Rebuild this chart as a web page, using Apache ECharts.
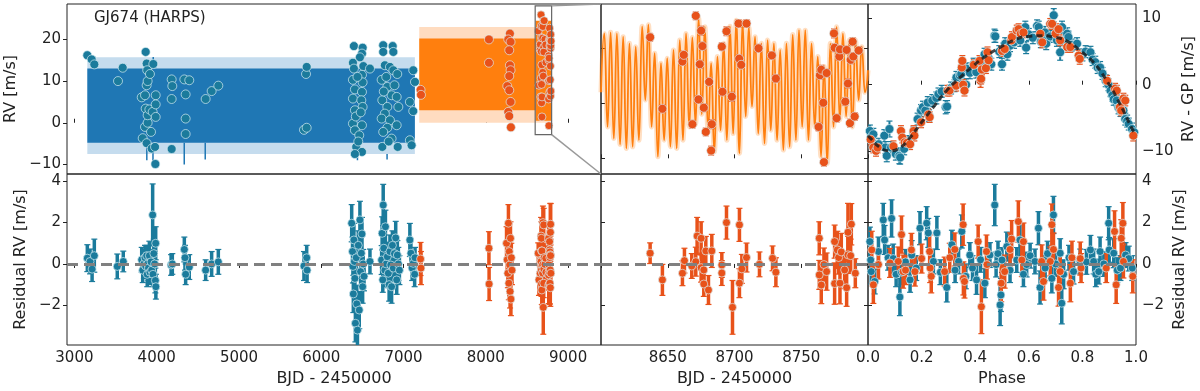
<!DOCTYPE html>
<html>
<head>
<meta charset="utf-8">
<script src="https://cdn.jsdelivr.net/npm/echarts@6/dist/echarts.min.js"></script>
<style>
  html, body { margin: 0; padding: 0; background: #fff; }
  #main { width: 1200px; height: 391px; }
</style>
</head>
<body>
<div id="main"></div>
<script>
// ---- data ----
// tick positions
const timeTicks = [3000, 4000, 5000, 6000, 7000, 8000, 9000]
const zoomTicks = [8600, 8650, 8700, 8750, 8800]
const zoomLabels = [8650, 8700, 8750]
const phaseTicks = [0, 0.2, 0.4, 0.6, 0.8, 1]
const rvTicks = [-10, 0, 10, 20]
const zoomRvTicks = [0, 10, 20]
const phaseRvTicks = [-10, 0, 10]
const residTicks = [-2, 0, 2, 4]

// axis ranges
const timeRange = [2910, 9400]
const rvRange = [-12.3, 28.5]
const zoomRange = [8600, 8800]
const zoomRvRange = [-2.85, 28.05]
const phaseRvRange = [-13.5, 12.2]
const residRange = [-3.92, 4.35]

// GP model bands in the full time series: [tStart, tEnd, low, high]
const blueBandOuter = [[3157, 7138, -7.5, 15.7]]
const blueBandInner = [[3157, 7138, -4.8, 13.0]]
const blueSpikes = [[3880, -9.0, -4.8], [3955, -9.3, -4.8], [3958, 13.0, 15.8], [4335, -10.0, -4.8], [4590, -8.8, -4.8], [6440, -9.0, -7.5], [6800, -8.8, -7.5]]
const orangeBandOuter = [[7191, 8800, 0.0, 23.0]]
const orangeBandInner = [[7191, 8605, 3.0, 20.2], [8605, 8800, 0.5, 24.5]]

// HARPS RV points, first season (blue) and second (orange): [BJD, RV]
const rvBlue = [
  [3157, 16.2], [3210, 15.2], [3242, 14.0], [3530, 10.0], [3587, 13.2],
  [3818, 6.1], [3830, -3.7], [3858, -1.0], [3858, 6.6], [3866, 17.0], [3866, 3.4], [3878, 14.2], [3878, 9.0],
  [3878, -4.9], [3885, 12.6], [3890, 10.0], [3890, 0.0], [3890, 1.8], [3911, 3.2], [3918, 11.7], [3931, -2.2],
  [3939, -6.2], [3951, 2.6], [3959, 14.1], [3980, -5.8], [3984, -9.9], [3988, 6.6], [3988, 4.4], [3988, 1.4],
  [4182, 10.4], [4190, 8.8], [4182, 5.7], [4182, -6.3], [4336, 10.4], [4352, 6.8], [4352, 1.0], [4352, -2.7],
  [4396, 10.2], [4595, 5.7], [4668, 7.6], [4749, 8.9],
  [5790, -1.7], [5815, 11.7], [5823, 13.4], [5823, -1.2],
  [6397, 18.4], [6503, 18.0], [6495, 16.6], [6470, 15.7], [6385, 14.4], [6512, 13.6], [6397, 13.0], [6592, 13.0],
  [6495, 11.5], [6385, 10.3], [6503, 9.7], [6409, 8.0], [6495, 7.4], [6385, 5.8], [6487, 5.4], [6503, 3.8],
  [6409, 3.0], [6385, -0.2], [6495, -0.6], [6409, -1.8], [6462, -3.0], [6425, -5.8], [6495, -7.0], [6409, -7.5],
  [6440, 11.0], [6420, 1.5], [6480, 2.5], [6450, -4.5],
  [6753, 18.6], [6868, 18.4], [6753, 17.0], [6876, 17.0], [6773, 13.8], [6835, 13.4], [6876, 12.6], [6924, 11.7],
  [6734, 10.3], [6803, 8.6], [6855, 6.6], [6917, 6.2], [6742, 5.4], [6803, 3.8], [6937, 3.8], [6773, 2.2],
  [6734, 1.0], [6835, 0.6], [6917, -0.6], [6803, -1.2], [6753, -2.2], [6855, -3.8], [6742, -5.8], [6929, -5.8],
  [6790, 11.0], [6890, 9.0], [6760, 7.5], [6820, -4.5],
  [7118, 12.6], [7139, 9.8], [7077, 5.0], [7118, 2.8], [7077, -4.2], [7098, -5.4]
]
const rvOrange = [
  [7207, 7.9], [7212, 6.7], [8038, 20.0], [8038, 14.4],
  [8293, 21.4], [8273, 20.0], [8301, 19.4], [8285, 17.4], [8293, 13.8], [8301, 12.6], [8285, 11.2],
  [8261, 8.8], [8285, 7.8], [8301, 5.0], [8273, 2.6], [8285, 1.6], [8305, -1.1]
]
// zoomed window (also drawn in the full series): [BJD, RV, err]
const rvZoom = [
  [8636.8, 22.0, 0.7], [8646, 9.0, 0.7], [8661, 17.6, 0.7], [8662, 18.8, 0.7], [8668.5, 6.2, 0.7],
  [8671, 25.9, 0.7], [8673, 10.7, 0.7], [8674, 17.1, 0.7], [8675, 23.2, 0.8], [8676, 20.4, 0.7],
  [8677, 9.2, 0.7], [8678.5, 4.8, 0.7], [8681, 13.9, 0.7], [8682.5, 1.4, 0.8], [8683, 6.2, 0.8],
  [8690.5, 20.3, 0.7], [8691, 12.1, 0.7], [8694, 23.1, 0.8], [8698, 11.2, 0.8], [8703, 24.5, 0.7],
  [8703.5, 18.1, 0.7], [8705, 17.0, 0.7], [8709, 24.5, 0.7], [8718, 20.0, 0.7], [8728, 18.7, 0.7],
  [8731, 14.5, 0.7], [8763, 5.7, 0.7], [8764, 15.1, 0.7], [8765, 16.1, 0.8], [8766.5, 10.1, 0.7],
  [8767, -0.7, 0.7], [8769, 15.5, 0.7], [8774.5, 22.7, 0.8], [8775, 20.1, 0.7], [8776.5, 7.3, 0.7],
  [8778.5, 18.5, 0.7], [8779, 19.8, 0.7], [8783, 10.3, 0.7], [8784, 19.7, 0.7], [8785, 13.6, 0.8],
  [8786.5, 6.4, 0.7], [8787, 17.9, 0.7], [8788.5, 21.2, 0.7], [8789, 18.5, 0.7], [8790, 7.6, 0.7],
  [8793, 19.6, 0.7]
]
// GP + planet model in the zoom window, peaks and troughs
const modelTime = [
  8600, 8602.5, 8604.9, 8607.2, 8609.6, 8611.9, 8614.3, 8616.6, 8619.0, 8621.3, 8623.7, 8626.0, 8628.4,
  8630.8, 8633.2, 8635.5, 8637.9, 8640.2, 8642.6, 8644.9, 8647.3, 8649.6, 8652.0, 8654.3, 8656.7,
  8659.0, 8661.4, 8663.7, 8666.1, 8668.4, 8670.8, 8673.1, 8675.5, 8677.8, 8680.2, 8682.5, 8684.9,
  8687.2, 8689.6, 8691.9, 8694.3, 8696.6, 8699.0, 8701.3, 8703.7, 8706.0, 8708.4, 8710.7, 8713.1,
  8715.4, 8717.8, 8720.1, 8722.5, 8724.8, 8727.2, 8729.5, 8731.9, 8734.2, 8736.6, 8738.9, 8741.3,
  8743.6, 8746.0, 8748.3, 8750.7, 8753.0, 8755.4, 8757.7, 8760.1, 8762.4, 8764.8, 8767.1, 8769.5,
  8771.8, 8774.2, 8776.5, 8778.9, 8781.2, 8783.6, 8785.9, 8788.3, 8790.6, 8793.0, 8795.3, 8797.7, 8800
]
const modelRv = [
  12.0, 22.7, 5.7, 22.9, 3.6, 22.7, 2.5, 22.1, 1.8, 20.9, 2.1, 20.3, 3.3,
  24.0, 10.6, 24.3, 5.7, 19.1, 0.3, 17.3, 3.3, 18.2, 2.1, 19.7, 1.8,
  21.5, 3.3, 22.7, 5.7, 22.0, 6.2, 25.5, 8.0, 23.9, 5.0, 17.3, 1.2,
  18.5, 5.1, 20.9, 3.3, 24.0, 4.5, 25.1, 0.9, 24.8, 7.6, 23.9, 9.4,
  22.1, 4.5, 20.9, 2.7, 21.5, 5.1, 20.9, 3.3, 19.7, 1.5, 20.9, 2.1,
  22.5, 3.3, 23.3, 5.7, 23.3, 3.3, 20.9, 5.7, 18.5, 0.3, 16.7, -0.9,
  20.9, 5.7, 23.9, 7.0, 22.7, 7.6, 21.5, 5.7, 21.5, 10.6, 20.3, 12.0, 16.0
]
// phase-folded planet signal
const keplerPhase = [0, 0.007, 0.045, 0.082, 0.12, 0.157, 0.194, 0.244, 0.293, 0.344, 0.394, 0.443, 0.493, 0.543, 0.593, 0.643, 0.693, 0.742, 0.791, 0.841, 0.891, 0.94, 0.99, 1]
const keplerRv = [-7.7, -8.0, -9.5, -10.0, -9.5, -8.0, -6.0, -3.4, -0.9, 1.1, 2.9, 4.4, 5.65, 6.7, 7.3, 7.4, 7.2, 6.6, 5.15, 3.4, 0.6, -2.9, -7.0, -7.5]
// [phase, RV - GP, err]
const phaseBlue = [
  [0.007, -7.0, 0.9], [0.011, -8.0, 0.9], [0.02, -7.5, 0.9], [0.04, -9.0, 0.9], [0.061, -7.7, 0.9], [0.065, -9.5, 0.9],
  [0.07, -10.75, 0.9], [0.08, -6.7, 1.2], [0.086, -9.5, 0.9], [0.104, -10.5, 0.9], [0.117, -10.75, 1.2], [0.12, -11.0, 1.0],
  [0.135, -9.7, 0.9], [0.15, -8.6, 0.9], [0.17, -7.3, 0.9], [0.185, -5.2, 0.9], [0.198, -3.9, 0.9], [0.205, -3.4, 0.9],
  [0.214, -3.9, 0.9], [0.223, -2.7, 0.9], [0.228, -4.7, 0.9], [0.24, -2.4, 0.9], [0.255, -2.0, 0.9], [0.263, -1.4, 0.9],
  [0.275, -1.0, 0.9], [0.29, -3.4, 1.0], [0.295, -3.3, 0.9], [0.31, -0.5, 0.9], [0.323, -0.15, 0.9], [0.33, 1.1, 0.9],
  [0.343, 1.4, 0.9], [0.348, 1.6, 0.9], [0.366, 0.0, 0.9], [0.369, 2.4, 0.9], [0.38, 1.8, 0.9], [0.394, 3.1, 0.9],
  [0.404, 1.9, 0.9], [0.42, 3.3, 0.9], [0.435, 4.6, 0.9], [0.45, 4.0, 0.9], [0.46, 3.1, 0.9], [0.472, 7.4, 1.0],
  [0.475, 7.3, 0.9], [0.49, 5.0, 0.9], [0.5, 3.1, 0.9], [0.505, 5.4, 0.9], [0.512, 6.2, 0.9], [0.52, 4.6, 0.9],
  [0.53, 5.9, 0.9], [0.545, 6.4, 0.9], [0.568, 6.7, 0.9], [0.587, 8.7, 0.9], [0.59, 5.6, 0.9], [0.6, 7.6, 0.9],
  [0.615, 7.1, 0.9], [0.631, 8.9, 0.9], [0.637, 8.7, 0.9], [0.645, 6.5, 0.9], [0.655, 7.2, 0.9], [0.66, 7.9, 0.9],
  [0.665, 6.2, 0.9], [0.68, 7.3, 0.9], [0.693, 10.5, 1.0], [0.705, 6.7, 0.9], [0.717, 4.9, 1.2], [0.724, 8.7, 0.9],
  [0.735, 6.8, 0.9], [0.743, 7.7, 0.9], [0.748, 7.2, 0.9], [0.76, 6.0, 0.9], [0.78, 6.2, 0.9], [0.8, 4.5, 0.9],
  [0.812, 5.0, 0.9], [0.83, 4.9, 0.9], [0.838, 3.8, 0.9], [0.848, 3.4, 0.9], [0.857, 2.6, 0.9], [0.866, 2.6, 0.9],
  [0.875, 1.7, 0.9], [0.887, 0.6, 0.9], [0.897, 0.0, 0.9], [0.905, -0.9, 0.9], [0.912, -1.6, 0.9], [0.917, -2.2, 0.9],
  [0.928, -2.4, 0.9], [0.935, -3.5, 0.9], [0.942, -3.9, 0.9], [0.953, -3.9, 0.9], [0.96, -5.2, 0.9], [0.967, -5.5, 0.9],
  [0.973, -5.95, 0.9], [0.985, -6.7, 0.9], [0.993, -7.2, 0.9]
]
const phaseOrange = [
  [0.01, -8.3, 0.8], [0.02, -9.5, 0.8], [0.03, -10.0, 0.8], [0.036, -9.5, 0.8], [0.095, -9.3, 0.8], [0.123, -7.0, 0.8],
  [0.128, -8.0, 0.8], [0.137, -8.7, 0.8], [0.145, -8.8, 0.8], [0.157, -9.0, 0.8], [0.17, -7.0, 0.8], [0.173, -7.7, 0.8],
  [0.198, -5.7, 0.8], [0.225, -4.5, 0.8], [0.23, -4.9, 0.8], [0.297, -0.9, 0.8], [0.304, -0.9, 0.8], [0.329, -0.15, 0.8],
  [0.35, 2.6, 1.1], [0.352, 3.6, 0.8], [0.355, 0.0, 0.8], [0.36, -0.9, 0.8], [0.395, 3.0, 0.8], [0.416, 3.6, 0.8],
  [0.42, 0.6, 1.0], [0.422, 0.9, 0.8], [0.425, 2.3, 0.8], [0.44, 2.5, 0.8], [0.446, 4.9, 0.8], [0.45, 3.7, 0.8],
  [0.5, 5.1, 0.8], [0.51, 5.4, 0.8], [0.535, 6.7, 0.8], [0.537, 7.2, 0.8], [0.555, 8.2, 0.8], [0.562, 8.4, 0.8],
  [0.57, 7.7, 0.8], [0.58, 7.9, 0.8], [0.643, 7.7, 0.8], [0.65, 6.4, 0.8], [0.68, 9.2, 0.8], [0.687, 9.2, 0.8],
  [0.7, 7.7, 0.8], [0.711, 8.4, 0.8], [0.717, 6.7, 0.8], [0.743, 5.7, 0.8], [0.755, 5.7, 0.8], [0.786, 4.4, 0.8],
  [0.79, 3.9, 0.8], [0.892, 0.6, 0.8], [0.922, -0.6, 0.8], [0.928, -0.9, 0.8], [0.94, -3.4, 0.8], [0.945, -3.9, 0.8],
  [0.953, -2.1, 0.8], [0.96, -2.4, 0.8], [0.99, -7.7, 0.8]
]
// residuals vs time: [BJD, residual, err]
const residBlue = [
  [3157, 0.28, 0.65], [3190, 0.12, 0.6], [3215, -0.25, 0.6], [3242, 0.4, 0.8], [3521, -0.12, 0.6], [3594, 0.12, 0.5],
  [3818, 0.2, 0.6], [3830, -0.3, 0.6], [3845, 0.0, 0.7], [3858, 0.3, 0.6], [3866, -0.1, 0.6], [3878, 0.4, 0.5],
  [3885, -0.5, 0.6], [3890, 0.0, 0.6], [3900, -0.2, 0.6], [3911, 0.4, 0.7], [3918, -0.4, 0.6], [3931, 0.1, 0.6],
  [3939, -0.3, 0.6], [3951, 2.37, 1.5], [3955, -0.5, 0.6], [3965, 0.5, 0.7], [3975, 0.0, 0.6], [3984, -0.8, 0.6],
  [3988, 1.0, 0.8], [3990, -1.1, 0.6],
  [4175, -0.05, 0.5], [4190, 0.0, 0.5], [4336, 0.7, 0.6], [4344, 0.3, 0.6], [4352, -0.5, 0.5], [4396, -0.15, 0.6],
  [4595, -0.3, 0.5], [4668, 0.0, 0.6], [4749, 0.1, 0.6], [5790, -0.1, 0.7], [5823, 0.3, 0.6], [5828, -0.3, 0.6],
  [6370, 1.97, 0.9], [6380, 0.6, 0.7], [6385, -0.12, 0.8], [6390, -1.45, 0.9], [6397, 1.16, 0.8], [6403, 0.12, 0.7],
  [6409, -0.7, 0.8], [6415, -2.87, 0.9], [6425, 0.3, 0.8], [6432, -1.93, 0.9], [6440, -3.2, 0.8], [6450, 0.9, 0.7],
  [6462, -2.23, 0.9], [6470, 2.13, 0.9], [6478, -0.37, 0.7], [6487, 0.52, 0.8], [6495, 1.45, 0.8], [6503, -1.1, 0.8],
  [6510, 0.0, 0.7], [6520, -0.6, 0.7], [6592, 0.12, 0.6],
  [6734, 0.19, 0.7], [6740, 1.48, 0.8], [6748, -0.77, 0.6], [6753, 2.85, 1.0], [6760, 0.76, 0.7], [6773, -0.3, 0.8],
  [6780, 1.8, 0.8], [6790, 0.0, 0.8], [6803, 0.35, 0.7], [6815, -0.45, 0.7], [6825, -1.0, 0.8], [6835, 0.6, 0.8],
  [6845, -0.05, 0.7], [6855, -1.1, 0.8], [6865, 0.9, 0.7], [6876, -0.2, 0.6], [6890, 0.5, 0.7], [6905, 1.26, 0.8],
  [6917, -0.77, 0.7], [6925, 0.43, 0.7], [6937, 0.0, 0.8], [6950, -0.3, 0.7],
  [7077, 1.16, 0.8], [7090, 0.52, 0.7], [7105, -0.2, 0.6], [7118, 0.03, 0.6], [7135, -0.5, 0.6], [7140, 0.3, 0.5]
]
const residOrange = [
  [7207, 0.24, 0.8], [7212, -0.2, 0.8], [8038, 0.76, 0.8], [8040, -0.97, 0.8],
  [8252, 1.0, 0.8], [8260, 0.2, 0.7], [8268, -0.45, 0.7], [8275, 1.97, 0.9], [8280, -0.93, 0.8], [8285, 0.6, 0.8],
  [8290, -0.05, 0.7], [8295, -1.33, 0.8], [8300, 1.24, 0.8], [8305, -1.7, 0.8], [8310, 0.3, 0.7], [8318, -0.3, 0.7]
]
const residZoom = [
  [8636.8, 0.52, 0.5], [8646, -0.77, 0.75], [8661, -0.45, 0.6], [8662.5, 0.16, 0.6], [8668, -0.1, 0.6], [8671, 0.11, 0.7],
  [8672, 1.35, 0.9], [8675, 1.24, 0.8], [8675, -0.18, 0.7], [8677, -0.29, 0.7], [8677, -0.97, 0.6], [8678.5, 0.63, 0.7],
  [8680.5, -1.26, 0.7], [8683, 0.63, 0.8], [8690.5, -0.05, 0.6], [8690.5, -0.44, 0.6], [8694, 2.0, 0.8], [8698.5, -2.1, 1.3],
  [8703.7, 1.89, 0.8], [8703.7, -0.93, 0.7], [8705.5, -0.24, 0.7], [8709, 0.31, 0.7], [8718.7, -0.02, 0.6], [8728.5, 0.27, 0.6],
  [8731, -0.4, 0.7], [8763.5, 1.24, 0.8], [8763.5, -0.53, 0.7], [8765, -1.02, 0.9], [8767, -0.03, 0.8], [8769, -0.37, 0.9],
  [8775, 1.08, 0.8], [8775, -0.95, 1.0], [8777, 0.68, 0.9], [8778, 0.31, 0.8], [8779, -0.93, 1.0], [8780, 0.58, 0.9],
  [8782.5, -0.29, 0.9], [8784, -1.15, 0.9], [8785, 1.53, 1.4], [8785, 0.44, 0.9], [8787.5, 1.92, 1.0], [8787, 0.4, 0.8],
  [8790.5, -0.45, 0.7]
]
// residuals vs phase: [phase, residual, err]
const residPhaseBlue = [
  [0.007, 1.08, 0.7], [0.01, 0.19, 0.6], [0.012, -0.37, 0.6], [0.025, -0.85, 0.6], [0.039, 0.6, 0.7], [0.057, 2.13, 0.8],
  [0.062, 1.16, 0.7], [0.075, 0.3, 0.6], [0.088, 2.2, 0.9], [0.094, 0.26, 0.7], [0.105, -0.5, 0.6], [0.119, -1.6, 0.9],
  [0.125, -0.4, 0.6], [0.14, 0.1, 0.6], [0.157, -0.77, 0.6], [0.163, 0.43, 0.7], [0.18, -0.2, 0.6], [0.194, 1.73, 0.8],
  [0.219, 1.97, 0.8], [0.225, 1.5, 0.7], [0.244, 0.12, 0.6], [0.257, 1.5, 0.8], [0.27, -0.4, 0.6], [0.294, -1.14, 0.7],
  [0.313, 0.93, 0.7], [0.325, -0.3, 0.6], [0.338, 0.12, 0.6], [0.35, 1.57, 0.8], [0.365, -0.6, 0.6], [0.38, 0.43, 0.6],
  [0.39, -0.2, 0.6], [0.405, -0.77, 0.7], [0.42, 0.2, 0.6], [0.436, -0.93, 0.7], [0.455, 0.43, 0.6], [0.473, 2.85, 1.0],
  [0.478, -0.03, 0.6], [0.485, 0.5, 0.6], [0.493, -1.98, 1.0], [0.496, -1.5, 0.8], [0.5, 0.19, 0.6], [0.518, 0.84, 0.7],
  [0.53, -0.3, 0.6], [0.555, 0.19, 0.6], [0.567, 1.16, 0.8], [0.58, -0.5, 0.6], [0.592, -0.03, 0.6], [0.605, 0.4, 0.6],
  [0.623, 0.12, 0.6], [0.636, 1.73, 0.8], [0.642, -1.14, 0.8], [0.661, -0.2, 0.6], [0.67, 0.5, 0.6], [0.686, -0.7, 0.7],
  [0.692, 2.37, 0.9], [0.7, 0.0, 0.6], [0.717, 0.52, 0.7], [0.723, -1.9, 1.0], [0.73, -0.5, 0.7], [0.75, 0.3, 0.6],
  [0.767, -0.37, 0.6], [0.792, 0.12, 0.6], [0.815, 0.1, 0.6], [0.83, 0.68, 0.7], [0.842, 0.12, 0.6], [0.85, -0.5, 0.6],
  [0.861, -0.37, 0.6], [0.866, 0.6, 0.7], [0.88, 0.0, 0.6], [0.898, 1.97, 0.8], [0.9, 0.68, 0.6], [0.917, 0.52, 0.7],
  [0.93, -0.3, 0.6], [0.942, -0.2, 0.6], [0.961, 0.43, 0.6], [0.973, 0.26, 0.6], [0.986, -0.2, 0.6]
]
const residPhaseOrange = [
  [0.014, 0.68, 0.9], [0.02, -1.01, 0.9], [0.039, -0.03, 0.7], [0.082, 0.05, 0.7], [0.113, 0.12, 0.7], [0.125, 1.42, 0.9],
  [0.131, -0.37, 0.8], [0.14, -0.3, 0.7], [0.162, 0.68, 0.8], [0.175, -0.37, 0.7], [0.2, 0.26, 0.7], [0.23, 0.6, 0.8],
  [0.232, -0.2, 0.7], [0.236, -0.6, 0.8], [0.286, -0.37, 0.7], [0.305, 0.3, 0.7], [0.324, 0.7, 0.8], [0.355, 1.9, 1.0],
  [0.356, -0.7, 0.8], [0.36, -0.85, 0.8], [0.411, 1.08, 0.8], [0.423, -2.07, 1.3], [0.442, 0.6, 0.8], [0.444, -0.03, 0.7],
  [0.497, -0.93, 0.9], [0.51, -0.37, 0.8], [0.53, 0.7, 0.8], [0.536, 1.2, 0.9], [0.561, 2.05, 1.0], [0.574, 0.19, 0.8],
  [0.58, 1.08, 0.9], [0.648, 0.12, 0.8], [0.655, -0.85, 0.9], [0.68, 0.12, 0.7], [0.686, 1.9, 1.0], [0.692, 0.7, 0.8],
  [0.711, -1.14, 0.9], [0.717, -0.37, 0.8], [0.755, -0.93, 0.9], [0.761, 0.3, 0.8], [0.792, 0.26, 0.8], [0.795, -0.2, 0.7],
  [0.889, -0.2, 0.7], [0.92, 1.57, 1.0], [0.926, -1.01, 0.9], [0.945, 1.24, 0.9], [0.951, 1.97, 1.0], [0.953, 0.12, 0.8],
  [0.988, -0.6, 0.8]
]

// ---- styles ----
const BLUE = '#1b7b9c'
const ORANGE = '#e8521a'
const FONT = 'DejaVu Sans'
const minus = v => String(v).replace('-', '\u2212')

const chart = echarts.init(document.getElementById('main'), null, { renderer: 'canvas' })

// boxes of the six panels
const grids = [
  { left: 67, top: 4, width: 534, height: 170 },
  { left: 601, top: 4, width: 267, height: 170 },
  { left: 868, top: 4, width: 268, height: 170 },
  { left: 67, top: 174, width: 534, height: 171 },
  { left: 601, top: 174, width: 267, height: 171 },
  { left: 868, top: 174, width: 268, height: 171 }
].map(g => Object.assign({ show: true, borderColor: '#222', borderWidth: 1, backgroundColor: 'transparent' }, g))

function axis(gridIndex, range, ticks, opts) {
  opts = opts || {}
  return {
    type: 'value', gridIndex, min: range[0], max: range[1], position: opts.position,
    axisLine: { show: false },
    splitLine: { show: false },
    axisTick: { show: true, inside: !!opts.inside, length: 4, customValues: ticks, lineStyle: { color: '#222' } },
    axisLabel: {
      show: !!opts.labels, customValues: opts.labels || ticks, fontSize: 15, fontFamily: FONT, color: '#222', margin: 6,
      formatter: opts.fmt || minus
    },
    name: opts.name, nameLocation: 'middle', nameGap: opts.nameGap, nameRotate: opts.nameRotate,
    nameTextStyle: { fontSize: 16, fontFamily: FONT, color: '#222' }
  }
}

const xAxis = [
  axis(0, timeRange, timeTicks, { inside: true }),
  axis(1, zoomRange, zoomTicks, { inside: true }),
  axis(2, [0, 1], phaseTicks, { inside: true }),
  axis(3, timeRange, timeTicks, { labels: timeTicks, name: 'BJD - 2450000', nameGap: 26 }),
  axis(4, zoomRange, zoomTicks, { labels: zoomLabels, name: 'BJD - 2450000', nameGap: 26 }),
  axis(5, [0, 1], phaseTicks, { labels: phaseTicks, name: 'Phase', nameGap: 26, fmt: v => v.toFixed(1) })
]
const yAxis = [
  axis(0, rvRange, rvTicks, { labels: rvTicks, name: 'RV [m/s]', nameGap: 48, nameRotate: 90 }),
  axis(1, zoomRvRange, zoomRvTicks, { inside: true, position: 'left' }),
  axis(2, phaseRvRange, phaseRvTicks, { labels: phaseRvTicks, position: 'right', name: 'RV - GP [m/s]', nameGap: 45, nameRotate: 90 }),
  axis(3, residRange, residTicks, { labels: residTicks, name: 'Residual RV [m/s]', nameGap: 38, nameRotate: 90 }),
  axis(4, residRange, residTicks, { inside: true, position: 'left' }),
  axis(5, residRange, residTicks, { labels: residTicks, position: 'right', name: 'Residual RV [m/s]', nameGap: 36, nameRotate: 90 }),
  axis(1, zoomRvRange, zoomRvTicks, { inside: true, position: 'right' }),
  axis(4, residRange, residTicks, { inside: true, position: 'right' })
]

// filled rectangles for the compressed GP band: [t0, t1, lo, hi]
function bands(xi, yi, rows, color, z) {
  return {
    type: 'custom', xAxisIndex: xi, yAxisIndex: yi, data: rows, z: z, silent: true, clip: true,
    renderItem(params, api) {
      const a = api.coord([api.value(0), api.value(3)])
      const b = api.coord([api.value(1), api.value(2)])
      return { type: 'rect', shape: { x: a[0], y: a[1], width: b[0] - a[0], height: b[1] - a[1] }, style: { fill: color } }
    }
  }
}
// thin vertical model spikes: [t, lo, hi]
function spikes(xi, yi, rows, color, z) {
  return {
    type: 'custom', xAxisIndex: xi, yAxisIndex: yi, data: rows, z: z, silent: true, clip: true,
    renderItem(params, api) {
      const a = api.coord([api.value(0), api.value(1)])
      const b = api.coord([api.value(0), api.value(2)])
      return { type: 'line', shape: { x1: a[0], y1: a[1], x2: b[0], y2: b[1] }, style: { stroke: color, lineWidth: 1.5 } }
    }
  }
}
// error bars with caps: [x, y, err]
function errorBars(xi, yi, rows, color, width, extra) {
  return Object.assign({
    type: 'custom', xAxisIndex: xi, yAxisIndex: yi, data: rows, z: 3, silent: true, clip: true,
    renderItem(params, api) {
      const x = api.value(0), y = api.value(1), e = api.value(2)
      const lo = api.coord([x, y - e]), hi = api.coord([x, y + e])
      const cap = 3
      return {
        type: 'group', children: [
          { type: 'line', shape: { x1: lo[0], y1: lo[1], x2: hi[0], y2: hi[1] }, style: { stroke: color, lineWidth: width } },
          { type: 'line', shape: { x1: lo[0] - cap, y1: lo[1], x2: lo[0] + cap, y2: lo[1] }, style: { stroke: color, lineWidth: 1.2 } },
          { type: 'line', shape: { x1: hi[0] - cap, y1: hi[1], x2: hi[0] + cap, y2: hi[1] }, style: { stroke: color, lineWidth: 1.2 } }
        ]
      }
    }
  }, extra || {})
}
function points(xi, yi, rows, color, size) {
  return {
    type: 'scatter', xAxisIndex: xi, yAxisIndex: yi, data: rows, z: 4, symbolSize: size, silent: true,
    itemStyle: { color: color, borderColor: 'rgba(220,240,245,0.85)', borderWidth: 0.8, opacity: 1 }
  }
}
const zeroLine = {
  markLine: {
    silent: true, symbol: ['none', 'none'], label: { show: false },
    lineStyle: { color: '#808080', type: [11, 6], width: 3 },
    data: [{ yAxis: 0 }]
  }
}

const modelLine = modelTime.map((t, i) => [t, modelRv[i]])
const keplerLine = keplerPhase.map((p, i) => [p, keplerRv[i]])

const series = [
  // full time series
  bands(0, 0, blueBandOuter, '#c5dcee', 1),
  bands(0, 0, orangeBandOuter, '#ffdcc0', 1),
  bands(0, 0, blueBandInner, '#1f77b4', 2),
  bands(0, 0, orangeBandInner, '#ff7f0e', 2),
  spikes(0, 0, blueSpikes, '#1f77b4', 2),
  points(0, 0, rvBlue, BLUE, 9),
  points(0, 0, rvOrange, ORANGE, 9),
  points(0, 0, rvZoom, ORANGE, 8),
  // zoom window
  { type: 'line', xAxisIndex: 1, yAxisIndex: 1, data: modelLine, smooth: 0.5, smoothMonotone: 'x', showSymbol: false, silent: true, z: 1,
    lineStyle: { color: 'rgba(255,127,14,0.25)', width: 5 } },
  { type: 'line', xAxisIndex: 1, yAxisIndex: 1, data: modelLine, smooth: 0.5, smoothMonotone: 'x', showSymbol: false, silent: true, z: 2,
    lineStyle: { color: '#ff7f0e', width: 1.8 } },
  errorBars(1, 1, rvZoom, ORANGE, 1.5),
  points(1, 1, rvZoom, ORANGE, 9),
  // phase fold
  errorBars(2, 2, phaseBlue, BLUE, 2),
  points(2, 2, phaseBlue, BLUE, 9),
  errorBars(2, 2, phaseOrange, ORANGE, 2),
  points(2, 2, phaseOrange, ORANGE, 9),
  { type: 'line', xAxisIndex: 2, yAxisIndex: 2, data: keplerLine, smooth: true, showSymbol: false, silent: true, z: 6,
    lineStyle: { color: 'rgba(25,25,25,0.8)', width: 3, type: [6, 4] } },
  // residuals vs time
  errorBars(3, 3, residBlue, BLUE, 3.5, zeroLine),
  points(3, 3, residBlue, BLUE, 8),
  errorBars(3, 3, residOrange, ORANGE, 3.5),
  points(3, 3, residOrange, ORANGE, 8),
  errorBars(3, 3, residZoom, ORANGE, 3.5),
  points(3, 3, residZoom, ORANGE, 8),
  errorBars(4, 4, residZoom, ORANGE, 3.5, zeroLine),
  points(4, 4, residZoom, ORANGE, 8),
  // residuals vs phase
  errorBars(5, 5, residPhaseBlue, BLUE, 3.5, zeroLine),
  points(5, 5, residPhaseBlue, BLUE, 8),
  errorBars(5, 5, residPhaseOrange, ORANGE, 3.5),
  points(5, 5, residPhaseOrange, ORANGE, 8)
]

chart.setOption({
  animation: false,
  backgroundColor: '#fff',
  textStyle: { fontFamily: FONT },
  title: { text: 'GJ674 (HARPS)', left: 89, top: 6, textStyle: { fontSize: 15, fontWeight: 'normal', fontFamily: FONT, color: '#222' } },
  grid: grids,
  xAxis: xAxis,
  yAxis: yAxis,
  series: series
})

// zoom box in the full series and the lines joining it to the zoom panel
const boxA = chart.convertToPixel({ xAxisIndex: 0, yAxisIndex: 0 }, [zoomRange[0], zoomRvRange[1]])
const boxB = chart.convertToPixel({ xAxisIndex: 0, yAxisIndex: 0 }, [zoomRange[1], zoomRvRange[0]])
const panTop = chart.convertToPixel({ xAxisIndex: 1, yAxisIndex: 1 }, [zoomRange[0], zoomRvRange[1]])
const panBot = chart.convertToPixel({ xAxisIndex: 1, yAxisIndex: 1 }, [zoomRange[0], zoomRvRange[0]])
chart.setOption({
  graphic: [
    { type: 'rect', z: 10, shape: { x: boxA[0], y: boxA[1], width: boxB[0] - boxA[0], height: boxB[1] - boxA[1] },
      style: { fill: null, stroke: '#666', lineWidth: 1.2 } },
    { type: 'line', z: 10, shape: { x1: boxB[0], y1: boxA[1], x2: panTop[0], y2: panTop[1] }, style: { stroke: '#999', lineWidth: 1.5 } },
    { type: 'line', z: 10, shape: { x1: boxB[0], y1: boxB[1], x2: panBot[0], y2: panBot[1] }, style: { stroke: '#999', lineWidth: 1.5 } }
  ]
})

window.addEventListener('resize', function () {
  chart.resize()
})
</script>
</body>
</html>
